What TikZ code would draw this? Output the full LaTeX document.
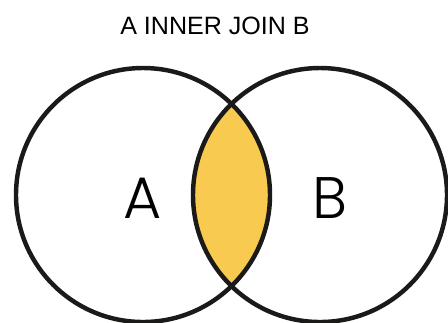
\documentclass[tikz,border=0pt]{standalone}
\usepackage{fontspec}
\setmainfont{Liberation Sans}
\newfontfamily\setletterfont{Poppins}[UprightFont=* Light]
\usetikzlibrary{positioning}
\definecolor{joinyellow}{RGB}{248,202,80}
\definecolor{joinline}{RGB}{28,26,24}

\begin{document}
\begin{tikzpicture}[x=.03cm,y=-.03cm,
 setline/.style={draw=joinline,line width=3.8pt},
 title/.style={font=\fontsize{21.4}{24}\selectfont,inner sep=0pt},
 setname/.style={font=\setletterfont\fontsize{50}{50}\selectfont,inner sep=0pt,anchor=base}]
\useasboundingbox[fill=white] (0,0) rectangle (448,322);
\coordinate (ca) at (143,195);
\coordinate (cb) at (320,195);
\node[title] (head) at (215,26) {A INNER JOIN B};
% overlap of the two sets
\begin{scope}
\clip (ca) circle[radius=127];
\fill[joinyellow] (cb) circle[radius=127];
\end{scope}
\draw[setline] (ca) circle[radius=127];
\draw[setline] (cb) circle[radius=127];
\node[setname] (nameA) at (143,218) {A};
\node[setname] (nameB) at (330,218) {B};
\end{tikzpicture}
\end{document}
